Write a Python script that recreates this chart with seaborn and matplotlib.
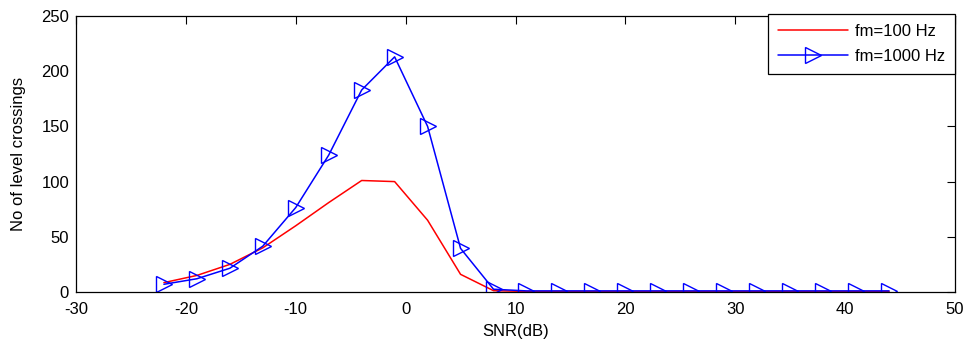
import matplotlib
matplotlib.use("Agg")
import matplotlib.pyplot as plt
import seaborn as sns
import pandas as pd

snr = [-22, -19, -16, -13, -10, -7, -4, -1, 2, 5, 8, 11, 14, 17, 20, 23, 26, 29, 32, 35, 38, 41, 44]
fm100 = [8.5, 15, 25, 40, 60, 81, 101, 100, 65, 16, 1.2, 0.5, 0.5, 0.5, 0.5, 0.5, 0.5, 0.5, 0.5, 0.5, 0.5, 0.5, 0.5]
fm1000 = [7, 12, 21.5, 41.5, 76.5, 124, 183, 213, 150, 39.5, 2.5, 1, 1, 1, 1, 1, 1, 1, 1, 1, 1, 1, 1]
labels = ["fm=100 Hz", "fm=1000 Hz"]

sns.set_style("white")
plt.rcParams['font.family'] = ['Liberation Sans', 'DejaVu Sans']
plt.rcParams['axes.unicode_minus'] = False
plt.rcParams['text.color'] = 'black'
plt.rcParams['axes.labelcolor'] = 'black'

fig = plt.figure(figsize=(9.71, 3.44), dpi=100)
ax = fig.add_axes([76/971, 1 - 292/344, (955-76)/971, (292-16)/344])

df1 = pd.DataFrame({"snr": snr, "val": fm100})
df2 = pd.DataFrame({"snr": snr, "val": fm1000})
sns.lineplot(data=df1, x="snr", y="val", ax=ax, color="#ff0000", lw=1.1, label=labels[0])
sns.lineplot(data=df2, x="snr", y="val", ax=ax, color="#0000ff", lw=1.1, marker=">",
             markersize=11, markerfacecolor="none", markeredgecolor="#0000ff",
             markeredgewidth=1.0, label=labels[1])

ax.set_xlim(-30, 50)
ax.set_ylim(0, 250)
ax.set_xticks(range(-30, 51, 10))
ax.set_yticks(range(0, 251, 50))
ax.tick_params(direction="in", length=6, width=0.8, top=True, right=True,
               labelsize=12, colors="black")
ax.tick_params(axis="x", pad=7)
ax.tick_params(axis="y", pad=5)
for s in ax.spines.values():
    s.set_visible(True)
    s.set_color("black")
    s.set_linewidth(0.9)
ax.set_xlabel("SNR(dB)", fontsize=12, labelpad=5)
ax.set_ylabel("No of level crossings", fontsize=12, labelpad=11)

leg = ax.legend(loc="upper right", bbox_to_anchor=(1.0, 1.007), fontsize=12,
                frameon=True, fancybox=False, edgecolor="black", framealpha=1,
                borderpad=0.6, handlelength=4.2, handletextpad=0.4,
                labelspacing=0.6, borderaxespad=0)
leg.get_frame().set_linewidth(0.9)
for t in leg.get_texts():
    t.set_color("black")

fig.savefig("out.png", dpi=100)
